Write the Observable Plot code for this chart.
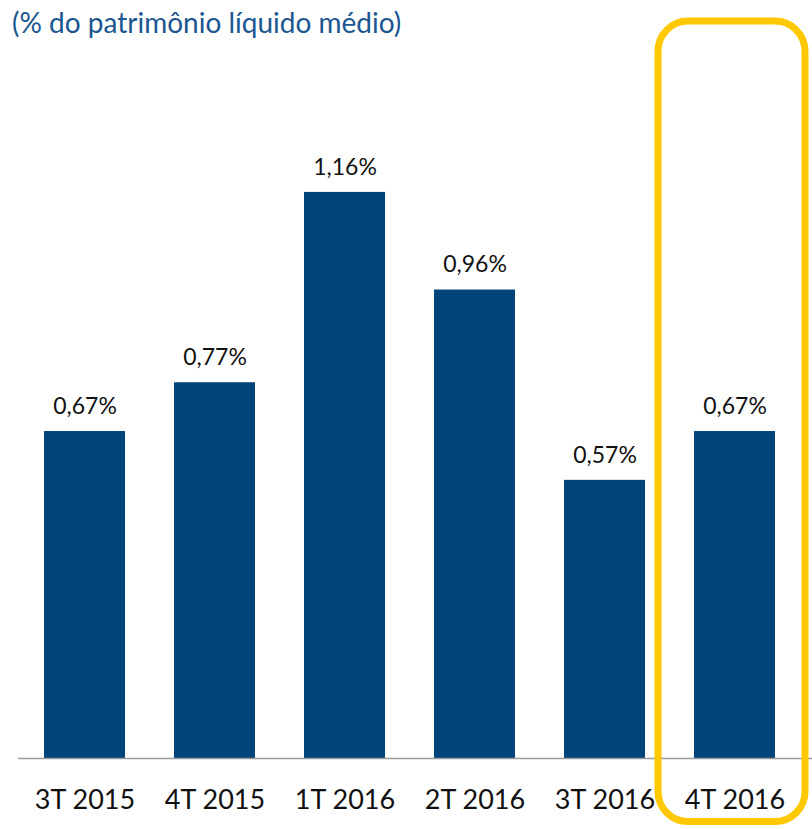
<!DOCTYPE html>
<html>
<head>
<meta charset="utf-8">
<script src="https://cdn.jsdelivr.net/npm/d3@7"></script>
<script src="https://cdn.jsdelivr.net/npm/@observablehq/plot@0.6"></script>
<style>
  html, body { margin: 0; padding: 0; background: #fff; }
  #wrap { position: relative; width: 812px; height: 829px; }
  #title { position: absolute; left: 12px; top: 5px; font-family: Lato, sans-serif; font-size: 28px; color: #1b5691; white-space: nowrap; z-index: 2; }
  #chart { position: absolute; left: 0; top: 0; }
</style>
</head>
<body>
<div id="wrap">
  <div id="title">(% do patrimônio líquido médio)</div>
  <div id="chart"></div>
</div>
<script>
const quarters = ["3T 2015", "4T 2015", "1T 2016", "2T 2016", "3T 2016", "4T 2016"];
const values = [0.67, 0.77, 1.16, 0.96, 0.57, 0.67];
const labels = ["0,67%", "0,77%", "1,16%", "0,96%", "0,57%", "0,67%"];
const highlighted = ["4T 2016"];
const highlightRange = [-0.13, 1.51];

const data = quarters.map((q, i) => ({q, v: values[i], label: labels[i]}));
const hl = highlighted.map(q => ({q, y1: highlightRange[0], y2: highlightRange[1]}));

const chart = Plot.plot({
  width: 812,
  height: 829,
  marginLeft: 18,
  marginRight: 0,
  marginTop: 26,
  marginBottom: 71,
  style: {fontFamily: "Lato, sans-serif", background: "transparent", overflow: "visible"},
  x: {domain: quarters, paddingInner: 0.38, paddingOuter: 0.232, align: 0.41, label: null},
  y: {domain: [0, 1.5], axis: null},
  marks: [
    Plot.barY(data, {x: "q", y: "v", fill: "#00447a"}),
    Plot.ruleY([0], {stroke: "#9a9a9a", strokeWidth: 1.5}),
    Plot.text(data, {x: "q", y: "v", text: "label", dy: -25, fontSize: 23, fill: "#111", lineAnchor: "middle"}),
    Plot.axisX({tickSize: 0, tickPadding: 31, fontSize: 27, fill: "#111", label: null}),
    Plot.barY(hl, {x: "q", y1: "y1", y2: "y2", fill: "none", stroke: "#ffc800", strokeWidth: 7, rx: 30, insetLeft: -36, insetRight: -30})
  ]
});
document.getElementById("chart").appendChild(chart);
</script>
</body>
</html>
